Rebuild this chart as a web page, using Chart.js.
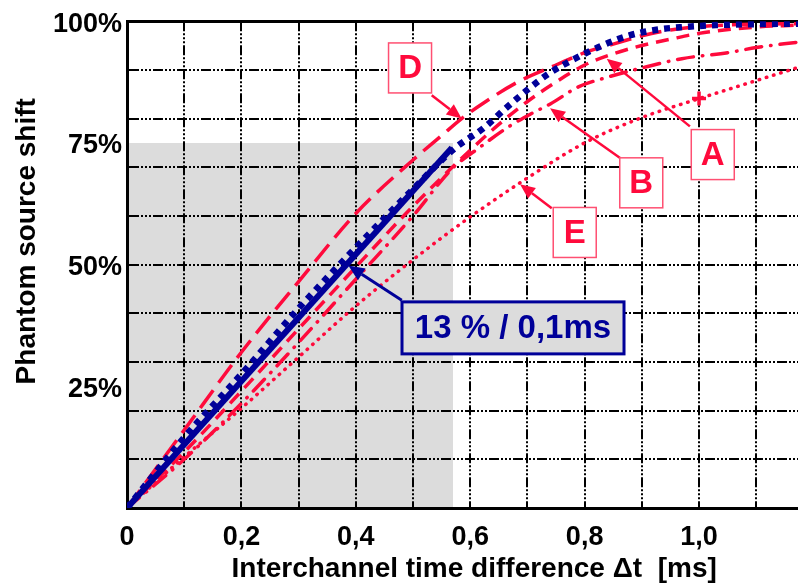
<!DOCTYPE html>
<html>
<head>
<meta charset="utf-8">
<script src="https://cdn.jsdelivr.net/npm/chart.js@4/dist/chart.umd.min.js"></script>
<style>
  html, body { margin: 0; padding: 0; background: #ffffff; }
  #wrap { width: 798px; height: 586px; }
</style>
</head>
<body>
<div id="wrap"><canvas id="c" width="798" height="586"></canvas></div>
<script>
// ---------------- data (ms, %) ----------------
const X_MAX = 1.173;
const X_TICKS = [0, 0.1, 0.2, 0.3, 0.4, 0.5, 0.6, 0.7, 0.8, 0.9, 1.0, 1.1];
const X_LABELS = ['0', '', '0,2', '', '0,4', '', '0,6', '', '0,8', '', '1,0', ''];
const Y_TICKS = [0, 10, 20, 25, 30, 40, 50, 60, 70, 75, 80, 90, 100];
const Y_LABELS = ['', '', '', '25%', '', '', '50%', '', '', '75%', '', '', '100%'];

// shaded region (0 .. 0.57 ms, 0 .. 75 %)
const shadeT = [0, 0.57];
const shadeP = [75, 75];

// blue solid line: 13 % / 0,1 ms
const solidT = [0, 0.568];
const solidP = [0, 74];

// blue dotted curve
const dottedT = [0, 0.1, 0.2, 0.3, 0.4, 0.5, 0.573, 0.623, 0.661, 0.699, 0.737, 0.783, 0.827, 0.876, 0.923, 0.972, 1.03, 1.1, 1.173];
const dottedP = [0, 14.5, 27.5, 41, 53.5, 65.5, 73.9, 78, 82, 85.8, 89.2, 92.3, 94.8, 97, 98.2, 98.8, 99.2, 99.4, 99.5];

// curve A (red dashed)
const curveAT = [0, 0.1, 0.2, 0.3, 0.4, 0.5, 0.6, 0.65, 0.7, 0.75, 0.8, 0.85, 0.9, 0.95, 1.0, 1.1, 1.173];
const curveAP = [0, 11.5, 24, 36.8, 49.5, 62, 73.5, 78.8, 83.5, 87.5, 91, 93.3, 95, 96.3, 97.5, 98.8, 99.2];

// curve B (red dash-dot)
const curveBT = [0, 0.1, 0.2, 0.3, 0.4, 0.5, 0.57, 0.611, 0.667, 0.705, 0.74, 0.789, 0.84, 0.9, 0.97, 1.054, 1.1, 1.173];
const curveBP = [0, 10, 21.5, 34, 47, 60, 69.9, 73.6, 78.3, 80.9, 83, 86.5, 88.5, 90.4, 92.3, 93.6, 94.6, 95.7];

// curve D (red long dash)
const curveDT = [0, 0.1, 0.2, 0.3, 0.4, 0.5, 0.55, 0.585, 0.626, 0.683, 0.748, 0.806, 0.85, 0.9, 0.95, 1.0, 1.1, 1.173];
const curveDP = [0, 16, 32, 46.5, 60.5, 71.5, 76.5, 80, 83.4, 87.5, 90.9, 93.8, 95.3, 97, 98.2, 98.9, 99.4, 99.5];

// curve E (red dotted)
const curveET = [0, 0.1, 0.2, 0.3, 0.4, 0.5, 0.6, 0.7, 0.8, 0.9, 1.0, 1.1, 1.173];
const curveEP = [0, 10.5, 20.5, 31, 41.5, 51, 59.8, 67.8, 75, 80.2, 84.1, 87.8, 90.5];

// marker on curve E
const markT = [1.0];
const markP = [84.1];

// ---------------- annotations (data coordinates) ----------------
const LETTERS = ['D', 'A', 'B', 'E'];
const LETTER_POS = [[0.4948, 90.4], [1.024, 72.6], [0.899, 66.8], [0.7827, 56.6]];
const LETTER_ARROW_FROM = [[0.5327, 84.8], [0.984, 78.4], [0.862, 71.9], [0.7425, 61.6]];
const LETTER_ARROW_TO = [[0.585, 80.0], [0.8386, 92.3], [0.7395, 82.1], [0.687, 66.5]];
const CALLOUT_TEXT = '13 % / 0,1ms';
const CALLOUT_POS = [0.6748, 37.0];
const CALLOUT_ARROW_FROM = [0.4803, 42.7];
const CALLOUT_ARROW_TO = [0.3869, 49.8];

// ---------------- styles ----------------
const RED = '#ff0a3c';
const BLUE = '#000099';
const FONT = "'Liberation Sans', Arial, Helvetica, sans-serif";

const pts = (t, p) => t.map((v, i) => ({ x: v, y: p[i] }));

function drawArrow(ctx, x1, y1, x2, y2, color, width, headLen, headW) {
  const ang = Math.atan2(y2 - y1, x2 - x1);
  const bx = x2 - Math.cos(ang) * headLen;
  const by = y2 - Math.sin(ang) * headLen;
  ctx.save();
  ctx.strokeStyle = color;
  ctx.fillStyle = color;
  ctx.lineWidth = width;
  ctx.setLineDash([]);
  ctx.beginPath();
  ctx.moveTo(x1, y1);
  ctx.lineTo(bx, by);
  ctx.stroke();
  ctx.beginPath();
  ctx.moveTo(x2, y2);
  ctx.lineTo(bx + Math.sin(ang) * headW / 2, by - Math.cos(ang) * headW / 2);
  ctx.lineTo(bx - Math.sin(ang) * headW / 2, by + Math.cos(ang) * headW / 2);
  ctx.closePath();
  ctx.fill();
  ctx.restore();
}

const annotPlugin = {
  id: 'annot',
  afterDatasetsDraw(chart) {
    const { ctx } = chart;
    const xs = chart.scales.x, ys = chart.scales.y;
    const px = v => xs.getPixelForValue(v);
    const py = v => ys.getPixelForValue(v);

    LETTERS.forEach((L, i) => {
      drawArrow(ctx, px(LETTER_ARROW_FROM[i][0]), py(LETTER_ARROW_FROM[i][1]),
        px(LETTER_ARROW_TO[i][0]), py(LETTER_ARROW_TO[i][1]), RED, 2.5, 15, 13);
    });
    LETTERS.forEach((L, i) => {
      const cx = px(LETTER_POS[i][0]), cy = py(LETTER_POS[i][1]);
      const w = 43, h = 50;
      ctx.save();
      ctx.fillStyle = '#ffffff';
      ctx.fillRect(cx - w / 2, cy - h / 2, w, h);
      ctx.strokeStyle = '#ff5072';
      ctx.lineWidth = 1.5;
      ctx.strokeRect(cx - w / 2, cy - h / 2, w, h);
      ctx.fillStyle = RED;
      ctx.font = 'bold 33px ' + FONT;
      ctx.textAlign = 'center';
      ctx.textBaseline = 'middle';
      ctx.fillText(L, cx, cy + 1);
      ctx.restore();
    });

    drawArrow(ctx, px(CALLOUT_ARROW_FROM[0]), py(CALLOUT_ARROW_FROM[1]),
      px(CALLOUT_ARROW_TO[0]), py(CALLOUT_ARROW_TO[1]), BLUE, 3, 16, 14);
    const cx = px(CALLOUT_POS[0]), cy = py(CALLOUT_POS[1]);
    const w = 222, h = 52;
    ctx.save();
    ctx.fillStyle = '#dcdcdc';
    ctx.fillRect(cx - w / 2, cy - h / 2, w, h);
    ctx.strokeStyle = BLUE;
    ctx.lineWidth = 3;
    ctx.strokeRect(cx - w / 2, cy - h / 2, w, h);
    ctx.fillStyle = BLUE;
    ctx.font = 'bold 33px ' + FONT;
    ctx.textAlign = 'center';
    ctx.textBaseline = 'middle';
    ctx.fillText(CALLOUT_TEXT, cx, cy + 1);
    ctx.restore();
  }
};

const lineDs = (label, t, p, color, width, dash, cap) => ({
  label, data: pts(t, p), showLine: true, borderColor: color, borderWidth: width,
  borderDash: dash, borderCapStyle: cap || 'butt', pointRadius: 0, fill: false,
  cubicInterpolationMode: 'monotone'
});

const chart = new Chart(document.getElementById('c'), {
  type: 'scatter',
  data: {
    datasets: [
      lineDs('solid', solidT, solidP, BLUE, 6, []),
      lineDs('dotted', dottedT, dottedP, BLUE, 6.5, [6, 6]),
      {
        label: 'mark', data: pts(markT, markP), showLine: false, pointStyle: 'cross',
        pointRadius: 7, pointBorderWidth: 3.5, pointBorderColor: RED, borderColor: RED
      },
      lineDs('D', curveDT, curveDP, RED, 3.5, [22, 9]),
      lineDs('A', curveAT, curveAP, RED, 3.5, [13, 8]),
      lineDs('B', curveBT, curveBP, RED, 3.5, [16, 9, 0.5, 9], 'round'),
      lineDs('E', curveET, curveEP, RED, 3.5, [0.5, 7], 'round'),
      {
        label: 'shade', data: pts(shadeT, shadeP), showLine: true, borderWidth: 0,
        borderColor: 'rgba(0,0,0,0)', backgroundColor: '#dcdcdc', pointRadius: 0, fill: 'origin'
      }
    ]
  },
  options: {
    responsive: false,
    animation: false,
    events: [],
    layout: { autoPadding: false, padding: { top: 17, left: 0, right: 0, bottom: 0 } },
    plugins: {
      legend: { display: false },
      tooltip: { enabled: false },
      filler: { drawTime: 'beforeDraw' }
    },
    scales: {
      x: {
        type: 'linear', position: 'bottom', min: 0, max: X_MAX,
        afterBuildTicks: s => { s.ticks = X_TICKS.map(v => ({ value: v })); },
        afterFit: s => { s.height = 78; },
        ticks: {
          autoSkip: false, maxRotation: 0, padding: 13, color: '#000',
          font: { family: FONT, size: 27, weight: 'bold' },
          callback: (v, i) => X_LABELS[i]
        },
        grid: { color: '#000', lineWidth: 2, drawTicks: false },
        border: { display: true, color: '#000', width: 3, dash: [10, 2, 2, 2, 2, 2, 2, 2] },
        title: {
          display: true, text: '   Interchannel time difference \u0394t  [ms]', color: '#000',
          font: { family: FONT, size: 28, weight: 'bold' }, padding: { top: 0, bottom: 0 }
        }
      },
      xTop: {
        type: 'linear', position: 'top', min: 0, max: X_MAX,
        ticks: { display: false },
        grid: { display: false, drawTicks: false },
        border: { display: true, color: '#000', width: 3 }
      },
      y: {
        type: 'linear', position: 'left', min: 0, max: 100,
        afterBuildTicks: s => { s.ticks = Y_TICKS.map(v => ({ value: v })); },
        afterFit: s => { s.width = 127; },
        ticks: {
          autoSkip: false, padding: 5, labelOffset: 3, color: '#000',
          font: { family: FONT, size: 27, weight: 'bold' },
          callback: (v, i) => Y_LABELS[i]
        },
        grid: {
          color: c => (c.tick && c.tick.value % 10 === 0) ? '#000' : 'rgba(0,0,0,0)',
          lineWidth: 2, drawTicks: false
        },
        border: { display: true, color: '#000', width: 3, dash: [10, 2, 2, 2, 2, 2, 2, 2] },
        title: {
          display: true, text: '      Phantom source shift', color: '#000',
          font: { family: FONT, size: 28, weight: 'bold' }, padding: { top: 10, bottom: 0 }
        }
      }
    }
  },
  plugins: [annotPlugin]
});
</script>
</body>
</html>
